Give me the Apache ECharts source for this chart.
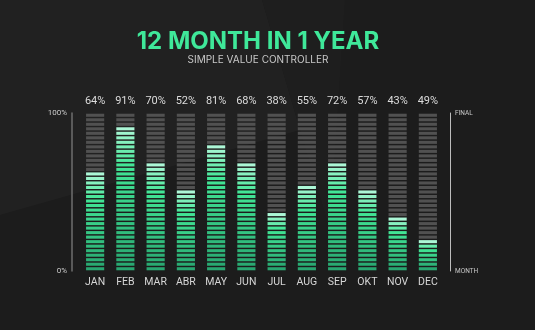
<!DOCTYPE html>
<html><head><meta charset="utf-8">
<script src="https://cdn.jsdelivr.net/npm/echarts@6/dist/echarts.min.js"></script>
<style>html,body{margin:0;padding:0;background:#1c1c1c}#c{width:535px;height:330px}</style>
</head><body><div id="c"></div>
<script>
const months = ['JAN','FEB','MAR','ABR','MAY','JUN','JUL','AUG','SEP','OKT','NOV','DEC'];
const barValues = [64, 91, 70, 52, 81, 68, 38, 53, 68, 51, 34, 20];
const pctLabels = ['64%','91%','70%','52%','81%','68%','38%','55%','72%','57%','43%','49%'];
const leftTickLabels = {0: '0%', 100: '100%'};
const rightTickLabels = {0: 'MONTH', 100: 'FINAL'};
const titleText = '12 MONTH IN 1 YEAR';
const subtitleText = 'SIMPLE VALUE CONTROLLER';
const SEGMENTS = 35;

const condensed = "'Roboto',sans-serif";

function mix(a, b, t) { return a.map((x, i) => Math.round(x + (b[i] - x) * t)); }
function greenAt(t) {
  const s0 = [40, 166, 112], s1 = [66, 230, 150], s2 = [172, 247, 214];
  const c = t < 0.74 ? mix(s0, s1, t / 0.74) : mix(s1, s2, (t - 0.74) / 0.26);
  return 'rgb(' + c.join(',') + ')';
}

function renderItem(params, api) {
  const idx = api.value(0), v = api.value(1);
  const p0 = api.coord([idx, 0]), p1 = api.coord([idx, 100]);
  const w = api.size([1, 0])[0] * 0.6;
  const x = p0[0] - w / 2;
  const pitch = (p0[1] - p1[1]) / SEGMENTS;
  const h = pitch * 0.68;
  let nGreen = 0;
  for (let k = 0; k < SEGMENTS; k++) if ((k + 0.5) * 100 / SEGMENTS < v) nGreen++;
  const children = [];
  for (let k = 0; k < SEGMENTS; k++) {
    const y = p0[1] - (k + 1) * pitch + (pitch - h) / 2;
    let fill;
    if (k < nGreen) {
      const t = nGreen > 1 ? k / (nGreen - 1) : 1;
      fill = greenAt(t);
    } else {
      fill = '#515151';
    }
    children.push({type: 'rect', shape: {x: x, y: y, width: w, height: h}, style: {fill: fill}});
  }
  return {type: 'group', children: children};
}

const chart = echarts.init(document.getElementById('c'), null, {renderer: 'canvas'});
chart.setOption({
  backgroundColor: '#1c1c1c',
  animation: false,
  graphic: [
    {type: 'polygon', z: -10, silent: true, shape: {points: [[0,0],[262,0],[300,130],[0,215]]}, style: {fill: 'rgba(255,255,255,0.025)'}},
    {type: 'polygon', z: -10, silent: true, shape: {points: [[262,0],[300,130],[330,230],[345,0]]}, style: {fill: 'rgba(255,255,255,0.012)'}},
    {type: 'text', silent: true, style: {text: titleText, x: 258, y: 42, align: 'center', verticalAlign: 'middle',
      fill: '#3fe89a', fontSize: 24, fontWeight: 'bold', fontFamily: 'Inter, sans-serif'}},
    {type: 'text', silent: true, style: {text: subtitleText, x: 258, y: 60, align: 'center', verticalAlign: 'middle',
      fill: '#c8c8c8', fontSize: 10, fontFamily: 'Inter, sans-serif'}}
  ],
  grid: {left: 80, right: 92, top: 113, bottom: 59},
  xAxis: [
    {type: 'category', data: months, position: 'bottom',
     axisLine: {show: false}, axisTick: {show: false}, splitLine: {show: false},
     axisLabel: {interval: 0, color: '#d6d6d6', fontSize: 10.5, margin: 6, fontFamily: condensed}},
    {type: 'category', data: pctLabels, position: 'top',
     axisLine: {show: false}, axisTick: {show: false}, splitLine: {show: false},
     axisLabel: {interval: 0, color: '#dcdcdc', fontSize: 11, margin: 6, fontFamily: condensed}}
  ],
  yAxis: [
    {type: 'value', min: 0, max: 100, interval: 100, position: 'left', offset: 8,
     axisLine: {show: true, lineStyle: {color: '#6e6e6e', width: 1.5}}, axisTick: {show: false}, splitLine: {show: false},
     axisLabel: {formatter: v => leftTickLabels[v] || '', color: '#cccccc', fontSize: 8, margin: 5, fontFamily: condensed}},
    {type: 'value', min: 0, max: 100, interval: 100, position: 'right', offset: 7,
     axisLine: {show: true, lineStyle: {color: '#bdbdbd', width: 1}}, axisTick: {show: false}, splitLine: {show: false},
     axisLabel: {formatter: v => rightTickLabels[v] || '', color: '#c8c8c8', fontSize: 6.5, margin: 5, fontFamily: condensed}}
  ],
  series: [{
    type: 'custom', xAxisIndex: 0, yAxisIndex: 0,
    renderItem: renderItem,
    encode: {x: 0, y: 1},
    data: barValues.map((v, i) => [i, v]),
    clip: false
  }]
});
</script></body></html>
